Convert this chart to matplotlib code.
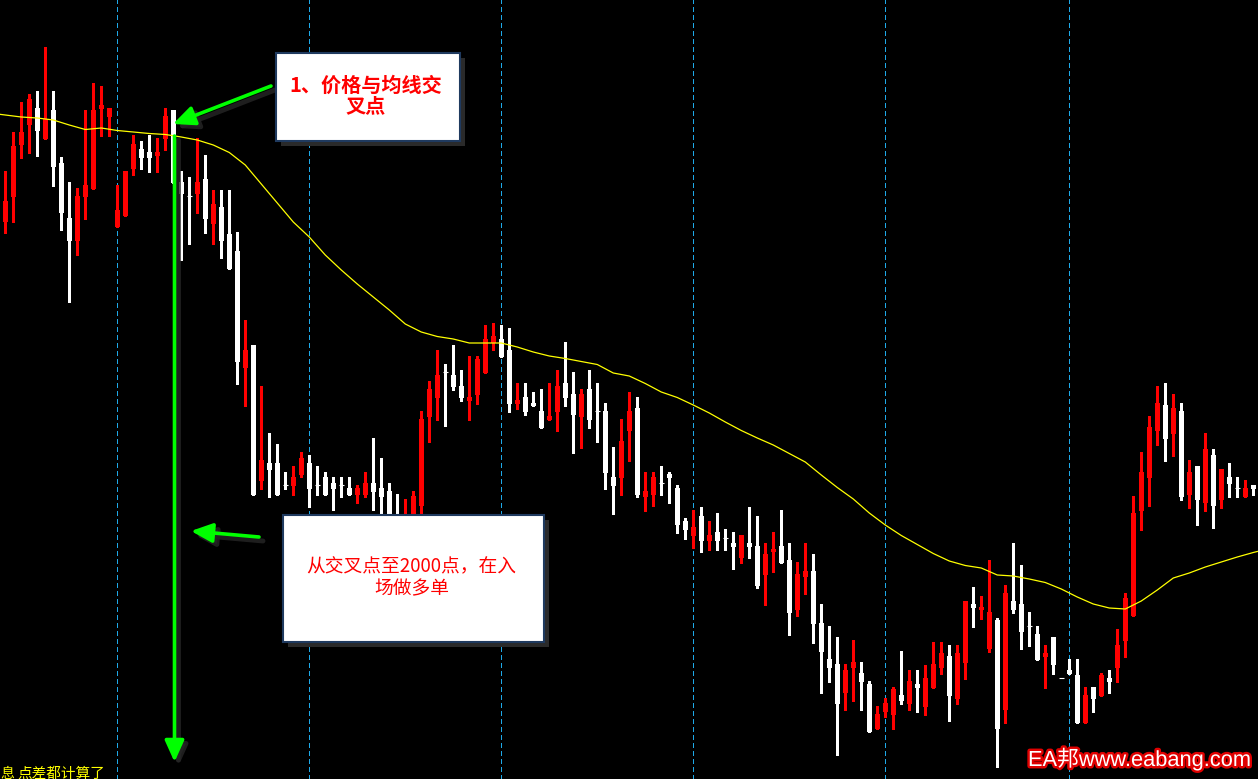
import numpy as np
import matplotlib
matplotlib.use("Agg")
import matplotlib.pyplot as plt
from matplotlib.patches import Rectangle
import matplotlib.patheffects as pe

plt.rcParams['font.family'] = ['Noto Sans CJK SC', 'DejaVu Sans']

## Candle data (one row per bar)
opens = [578, 603, 655, 675, 692, 661, 690, 637, 582, 559, 603, 611, 691, 683, 573, 584, 631, 651, 648, 644,
         661, 690, 618, 604, 606, 621, 576, 593, 566, 549, 432, 455, 319, 337, 337, 315, 314, 325, 337, 315,
         323, 317, 315, 312, 305, 305, 317, 312, 309, 284, 272, 280, 294, 383, 402, 428, 425, 414, 399, 405,
         427, 457, 461, 450, 396, 403, 397, 389, 380, 388, 417, 406, 383, 411, 389, 389, 323, 322, 369, 392,
         303, 305, 317, 326, 312, 279, 264, 284, 259, 268, 262, 257, 242, 257, 254, 225, 248, 254, 240, 190,
         223, 229, 177, 141, 136, 107, 132, 127, 116, 71, 88, 85, 105, 96, 116, 93, 112, 132, 144, 101,
         137, 196, 190, 151, 180, 90, 199, 196, 174, 166, 143, 163, 122, 130, 125, 77, 113, 104, 122, 132,
         159, 184, 289, 322, 369, 395, 366, 389, 305, 334, 297, 345, 300, 323, 312, 303, 315]
highs = [629, 668, 698, 706, 709, 753, 709, 643, 618, 612, 690, 717, 714, 692, 615, 629, 665, 659, 665, 662,
         692, 690, 629, 623, 662, 645, 610, 610, 610, 568, 480, 455, 414, 367, 356, 328, 334, 348, 345, 334,
         328, 323, 323, 323, 315, 328, 362, 342, 317, 306, 301, 309, 389, 419, 450, 436, 455, 430, 444, 444,
         475, 477, 475, 472, 417, 417, 408, 411, 417, 430, 458, 428, 411, 430, 417, 397, 353, 381, 408, 403,
         328, 328, 334, 328, 315, 282, 290, 293, 279, 287, 271, 268, 265, 293, 284, 257, 268, 290, 257, 238,
         257, 246, 196, 174, 163, 136, 160, 138, 119, 94, 102, 113, 149, 130, 130, 135, 158, 158, 155, 155,
         199, 213, 204, 240, 182, 215, 257, 235, 188, 174, 155, 163, 122, 141, 141, 113, 113, 127, 130, 171,
         207, 304, 348, 384, 414, 417, 406, 397, 340, 334, 367, 351, 331, 337, 323, 320, 315]
lows = [567, 578, 642, 647, 644, 661, 614, 570, 498, 545, 581, 611, 664, 664, 573, 584, 625, 631, 628, 628,
        650, 617, 540, 556, 587, 567, 556, 542, 531, 416, 394, 305, 311, 303, 305, 311, 305, 323, 293, 305,
        305, 290, 303, 305, 297, 303, 290, 285, 275, 270, 266, 274, 285, 358, 380, 374, 410, 399, 380, 396,
        427, 450, 443, 388, 391, 385, 394, 372, 380, 369, 394, 347, 352, 372, 358, 311, 286, 305, 339, 303,
        289, 294, 305, 297, 267, 261, 252, 248, 250, 250, 250, 231, 237, 242, 212, 195, 228, 237, 165, 184,
        206, 157, 107, 118, 45, 90, 99, 90, 68, 71, 83, 71, 96, 90, 88, 85, 112, 126, 79, 96,
        121, 173, 181, 148, 33, 77, 187, 151, 154, 140, 112, 126, 122, 126, 77, 77, 88, 104, 107, 118,
        143, 184, 270, 294, 355, 339, 344, 300, 292, 275, 289, 272, 292, 303, 303, 303, 305]
closes = [599, 654, 668, 701, 669, 681, 633, 587, 559, 604, 615, 690, 695, 692, 590, 629, 656, 642, 642, 648,
          684, 617, 606, 604, 618, 581, 596, 559, 531, 438, 450, 305, 340, 330, 305, 315, 323, 342, 311, 315,
          305, 311, 315, 305, 312, 317, 308, 303, 280, 276, 286, 304, 381, 411, 425, 428, 413, 402, 403, 441,
          461, 464, 443, 396, 400, 388, 394, 372, 384, 414, 402, 385, 406, 380, 389, 327, 314, 359, 389, 305,
          309, 323, 317, 322, 275, 270, 273, 259, 265, 259, 262, 253, 265, 253, 214, 246, 251, 237, 187, 226,
          229, 176, 148, 132, 96, 130, 138, 118, 68, 86, 97, 111, 99, 119, 112, 122, 136, 147, 104, 147,
          199, 192, 193, 188, 71, 207, 190, 168, 174, 140, 147, 135, 122, 126, 77, 105, 101, 125, 118, 155,
          202, 287, 328, 373, 397, 361, 392, 303, 328, 300, 351, 294, 331, 316, 312, 312, 311]

## Moving average, read every 2nd bar (plus both chart edges)
ma_idx = [-1] + list(range(0, 157, 2)) + [157]
ma_vals = [686, 685, 683, 682, 680, 675, 670.5, 672, 669.5, 668, 666.5, 665.5, 663, 660, 655, 647.5, 635, 616,
           597, 578, 563, 545, 530, 516, 503, 490, 476, 468, 463.5, 461, 457, 457, 457, 453, 448, 444, 441.5,
           438.5, 435.5, 427, 424, 416.5, 408, 402.5, 395, 387, 378, 369.5, 362, 355, 346.5, 338, 325, 312.5,
           301, 287, 275, 264.5, 255.5, 246.5, 239, 234.5, 232, 225, 224, 221, 217.5, 211, 203, 196, 192, 191,
           199, 210, 222, 227, 233, 238, 243, 247.5, 249.5]

## Day separators (bar index)
separators = [14, 38, 62, 86, 110, 133]

W, H = 1258, 779


def px(x, y):
    # pixel position (from top-left) -> axes fraction
    return (x / W, 1 - y / H)


fig = plt.figure(figsize=(W / 100, H / 100), dpi=100, facecolor='black')
ax = fig.add_axes([0, 0, 1, 1])
ax.set_facecolor('black')
ax.set_xlim(-0.66, 156.59)
ax.set_ylim(21, 800)
ax.set_axis_off()

for s in separators:
    ax.axvline(s, color='#1ea9e8', lw=0.75, ls=(0, (4, 3)), zorder=1, antialiased=False)

o = np.array(opens, float)
h = np.array(highs, float)
l = np.array(lows, float)
c = np.array(closes, float)
x = np.arange(len(o))
colors = np.where(c > o, '#ff0000', '#ffffff')

ax.vlines(x, l, h, colors=colors, lw=0.8, zorder=2, antialiased=False)
body = np.abs(c - o)
flat = body == 0
ax.bar(x[~flat], body[~flat], bottom=np.minimum(o, c)[~flat], width=0.62,
       color=colors[~flat], lw=0, zorder=3, antialiased=False)
ax.hlines(o[flat], x[flat] - 0.31, x[flat] + 0.31, colors=colors[flat], lw=0.8, zorder=3)

ax.plot(ma_idx, ma_vals, color='#ffff00', lw=0.9, zorder=4)

## Arrows (with a dark shadow)
def arrow(tail, tip):
    sh = 4
    ax.annotate('', xy=px(tip[0] + sh, tip[1] + sh), xytext=px(tail[0] + sh, tail[1] + sh),
                xycoords='axes fraction', textcoords='axes fraction', zorder=5,
                arrowprops=dict(arrowstyle='-|>,head_length=1.0,head_width=0.45', color='#262626',
                                lw=3.5, mutation_scale=12, shrinkA=0, shrinkB=0, alpha=0.8))
    ax.annotate('', xy=px(*tip), xytext=px(*tail),
                xycoords='axes fraction', textcoords='axes fraction', zorder=7,
                arrowprops=dict(arrowstyle='-|>,head_length=1.0,head_width=0.45', color='#00ff00',
                                lw=2.6, mutation_scale=13, shrinkA=0, shrinkB=0))


arrow((271, 86), (173, 124))
arrow((174.5, 136), (174.5, 762))
arrow((259, 537), (191, 531))

## Note boxes
def note_box(x0, y0, x1, y1):
    ax.add_patch(Rectangle(px(x0 + 5, y1 + 5), (x1 - x0) / W, (y1 - y0) / H, transform=ax.transAxes,
                           fc='#2a2a2a', ec='none', zorder=6))
    ax.add_patch(Rectangle(px(x0, y1), (x1 - x0) / W, (y1 - y0) / H, transform=ax.transAxes,
                           fc='white', ec='#1f3a5f', lw=1.5, zorder=6))


note_box(276, 53, 460, 141)
note_box(283, 515, 544, 642)

ax.text(*px(366, 85), '1、价格与均线交', transform=ax.transAxes, ha='center', va='center',
        color='#ff0000', fontsize=14.5, fontweight='bold', zorder=8)
ax.text(*px(366, 106), '叉点', transform=ax.transAxes, ha='center', va='center',
        color='#ff0000', fontsize=14.5, fontweight='bold', zorder=8)
ax.text(*px(411, 567), '从交叉点至2000点，在入', transform=ax.transAxes, ha='center', va='center',
        color='#ff0000', fontsize=13.5, zorder=8)
ax.text(*px(412, 589), '场做多单', transform=ax.transAxes, ha='center', va='center',
        color='#ff0000', fontsize=13.5, zorder=8)

## Watermark + footer text
ax.text(*px(1028, 766), 'EA邦www.eabang.com', transform=ax.transAxes, ha='left', va='baseline',
        color='white', fontsize=15.7, family=['Liberation Sans', 'Noto Sans CJK SC'], zorder=9,
        path_effects=[pe.withStroke(linewidth=3.5, foreground='#e00000')])
ax.text(*px(0, 767), '息', transform=ax.transAxes, ha='left', va='top',
        color='#ffff00', fontsize=10, zorder=9)
ax.text(*px(17, 767), '点差都计算了', transform=ax.transAxes, ha='left', va='top',
        color='#ffff00', fontsize=10.5, zorder=9)

fig.savefig('out.png', dpi=100, facecolor='black')
